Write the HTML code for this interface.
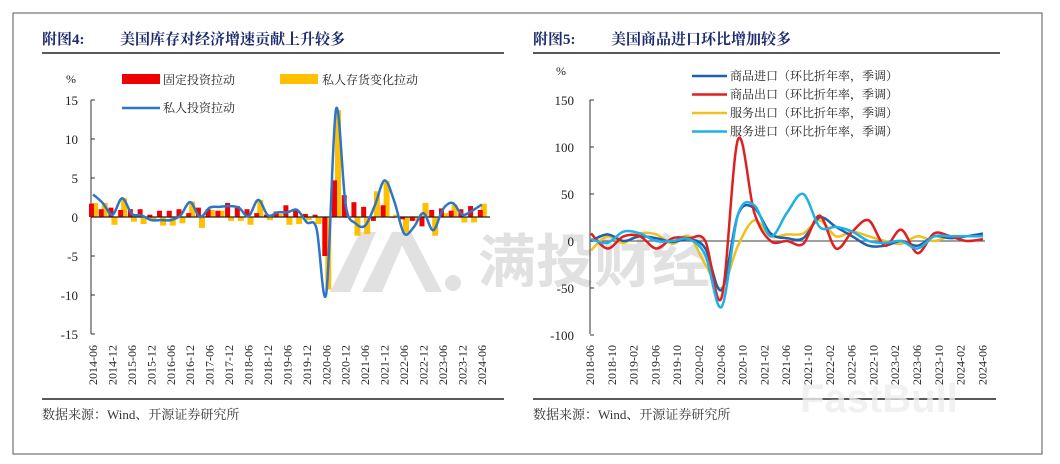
<!DOCTYPE html>
<html><head><meta charset="utf-8"><style>
html,body{margin:0;padding:0;background:#fff;}
body{width:1060px;height:464px;overflow:hidden;position:relative;font-family:"Liberation Serif","Noto Serif CJK SC",serif;}
svg{position:absolute;left:0;top:0;}
</style></head><body>
<svg id="s" width="1060" height="464" xmlns="http://www.w3.org/2000/svg" font-family="Liberation Serif, Noto Serif CJK SC, serif">
<rect x="13" y="13" width="1029" height="441" fill="#fff" stroke="#555" stroke-width="1"/>
<text x="42" y="44" font-size="15" font-weight="bold" fill="#1c2a6e">附图4:</text>
<text x="120" y="44" font-size="15" font-weight="bold" fill="#1c2a6e">美国库存对经济增速贡献上升较多</text>
<line x1="42" y1="53" x2="504" y2="53" stroke="#222" stroke-width="1.5"/>
<text x="533" y="44" font-size="15" font-weight="bold" fill="#1c2a6e">附图5:</text>
<text x="611" y="44" font-size="15" font-weight="bold" fill="#1c2a6e">美国商品进口环比增加较多</text>
<line x1="533" y1="53" x2="1000" y2="53" stroke="#222" stroke-width="1.5"/>
<line x1="42" y1="399" x2="504" y2="399" stroke="#222" stroke-width="1.5"/>
<line x1="533" y1="399" x2="996" y2="399" stroke="#222" stroke-width="1.5"/>
<text x="42" y="419" font-size="13" fill="#333">数据来源：Wind、开源证券研究所</text>
<text x="533" y="419" font-size="13" fill="#333">数据来源：Wind、开源证券研究所</text>
<!-- watermark -->
<g opacity="0.35" fill="#aaa">
<polygon points="330,292 360,232 376,232 350,292"/>
<polygon points="362,292 392,232 408,232 382,292"/>
<polygon points="395,232 411,232 442,292 426,292"/>
<circle cx="453" cy="283" r="8"/>
<text x="478" y="282" font-size="58" font-family="Liberation Sans, Noto Sans CJK SC, sans-serif" font-weight="bold">满投财经</text>
</g>
<text x="800" y="412" font-size="40" font-family="Liberation Sans, sans-serif" font-weight="bold" fill="#eee" opacity="0.8">FastBull</text>
<g id="g"></g>
</svg>
<script>
var g=document.getElementById('g'),h='';
function T(x,y,t,o){h+='<text x="'+x+'" y="'+y+'" '+(o||'')+'>'+t+'</text>';}
function sm(p){var d='M'+p[0][0]+','+p[0][1];for(var i=0;i<p.length-1;i++){var a=p[i-1]||p[i],b=p[i],c=p[i+1],e=p[i+2]||c;d+=' C'+(b[0]+(c[0]-a[0])/6)+','+(b[1]+(c[1]-a[1])/6)+' '+(c[0]-(e[0]-b[0])/6)+','+(c[1]-(e[1]-b[1])/6)+' '+c[0]+','+c[1];}return d;}
// LEFT
var ax=91,y0=217,k=7.8;
h+='<line x1="'+ax+'" y1="100" x2="'+ax+'" y2="334" stroke="#333"/>';
for(var v=-15;v<=15;v+=5){var y=y0-v*k;h+='<line x1="'+ax+'" y1="'+y+'" x2="'+(ax+4)+'" y2="'+y+'" stroke="#333"/>';T(78,y+5,v,'font-size="13" text-anchor="end" fill="#222"');}
T(66,83,'%','font-size="12" fill="#222"');
var red=[1.7,1,1.2,0.9,1,1,0.3,0.8,0.8,1,0.5,1.2,1,0.8,1.8,1.4,1,0.5,0.3,0.7,1.5,1,0.4,0.3,-5,4.7,2.8,1.9,1.3,-0.5,1.5,-0.1,-0.3,-0.5,-1.2,0.9,1.1,0.8,1,1.4,0.9];
var yel=[1.8,1.8,-1,2.4,-0.6,-0.9,-0.3,-1.1,-1.1,-0.8,2,-1.4,0.9,0.8,-0.5,-0.5,-1,2.2,-0.4,0.4,-1,-0.9,-0.4,-0.9,-9.3,13.7,-0.1,-2.4,-2.2,3.3,4.6,0.3,-2,-0.5,1.8,-2.4,0.5,1.6,-0.7,-0.7,1.7];
var ln=[2.9,1.8,0.3,2.4,0.4,0.2,-0.4,-0.4,-0.4,0.2,1.9,0,1.2,1.3,1.4,1.2,0.1,2.2,0.2,0.6,0.6,0.9,-0.7,-1.5,-9.8,13.8,1.5,-0.8,-1.1,1.5,4.7,2,-2.1,-1.3,0.5,-1.7,1,1.8,0.3,0.8,1.6];
function bar(x,w,v,c){var y=v>0?y0-v*k:y0;h+='<rect x="'+x+'" y="'+y+'" width="'+w+'" height="'+Math.abs(v*k)+'" fill="'+c+'"/>';}
var pts=[];
for(var i=0;i<41;i++){var c=93+i*9.72;bar(c-1,6,yel[i],'#ffc000');bar(c-4,5,red[i],'#f00000');pts.push([c,y0-ln[i]*k]);}
h+='<line x1="'+ax+'" y1="'+y0+'" x2="490" y2="'+y0+'" stroke="#222" stroke-width="1.2"/>';
h+='<path d="'+sm(pts)+'" fill="none" stroke="#2e75c8" stroke-width="2.5"/>';
for(var i=0;i<41;i+=2){var x=93+i*9.72,m=(i%4==0)?'06':'12';T(0,0,(Math.floor(2014+i/4))+'-'+m,'font-size="12" fill="#222" text-anchor="end" transform="translate('+(x+4)+',345) rotate(-90)"');}
h+='<rect x="122" y="74" width="38" height="10" fill="#f00000"/>';T(163,84,'固定投资拉动','font-size="12" fill="#222"');
h+='<rect x="280" y="74" width="38" height="10" fill="#ffc000"/>';T(322,84,'私人存货变化拉动','font-size="12" fill="#222"');
h+='<line x1="122" y1="108" x2="160" y2="108" stroke="#2e75c8" stroke-width="2.5"/>';T(163,112,'私人投资拉动','font-size="12" fill="#222"');
// RIGHT
var bx=590,z0=241,q=0.94;
h+='<line x1="'+bx+'" y1="100" x2="'+bx+'" y2="334" stroke="#333"/>';
for(var v=-100;v<=150;v+=50){var y=z0-v*q;h+='<line x1="'+bx+'" y1="'+y+'" x2="'+(bx+4)+'" y2="'+y+'" stroke="#333"/>';T(574,y+5,v,'font-size="13" text-anchor="end" fill="#222"');}
T(556,75,'%','font-size="12" fill="#222"');
h+='<line x1="'+bx+'" y1="'+z0+'" x2="985" y2="'+z0+'" stroke="#666" stroke-width="1.2"/>';
var S=[
['#f0c020',[-10,5,-2,8,7,-3,5,-25,-50,-5,22,5,7,8,22,5,10,5,0,-3,5,0,5,5,5]],
['#1f60aa',[0,7,0,5,3,-1,2,-8,-52,28,35,8,3,3,25,15,5,-5,-5,0,-5,5,3,5,8]],
['#e02020',[8,-8,5,5,-8,3,3,0,-60,108,30,0,0,-3,27,-8,10,22,-5,12,-13,8,5,0,2]],
['#20b0e8',[2,-2,10,8,0,0,2,-15,-70,28,38,5,30,50,15,15,10,0,-2,0,-8,5,5,5,5]]];
S.forEach(function(s){var p=s[1].map(function(v,i){return[591+i*16.33,z0-v*q];});h+='<path d="'+sm(p)+'" fill="none" stroke="'+s[0]+'" stroke-width="2.5"/>';});
var L=['2018-06','2018-10','2019-02','2019-06','2019-10','2020-02','2020-06','2020-10','2021-02','2021-06','2021-10','2022-02','2022-06','2022-10','2023-02','2023-06','2023-10','2024-02','2024-06'];
L.forEach(function(t,i){var x=590+i*21.8;T(0,0,t,'font-size="12" fill="#222" text-anchor="end" transform="translate('+(x+4)+',345) rotate(-90)"');});
var LG=[['#1f60aa','商品进口（环比折年率，季调）'],['#e02020','商品出口（环比折年率，季调）'],['#f0c020','服务出口（环比折年率，季调）'],['#20b0e8','服务进口（环比折年率，季调）']];
LG.forEach(function(l,i){var y=76+i*18.5;h+='<line x1="692" y1="'+y+'" x2="727" y2="'+y+'" stroke="'+l[0]+'" stroke-width="2.5"/>';T(730,y+4,l[1],'font-size="12" fill="#222"');});
g.innerHTML=h;
</script>
</body></html>
